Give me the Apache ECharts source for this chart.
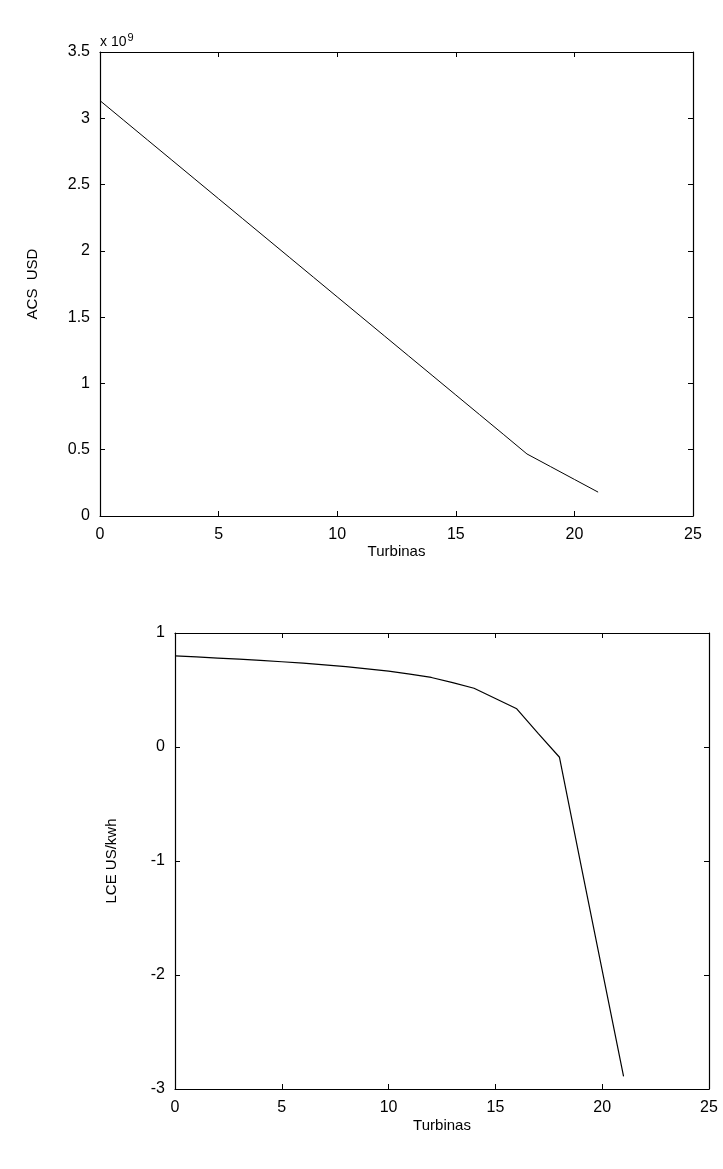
<!DOCTYPE html>
<html>
<head>
<meta charset="utf-8">
<script src="https://cdn.jsdelivr.net/npm/echarts@6/dist/echarts.min.js"></script>
<style>
  html, body { margin: 0; padding: 0; background: #fff; }
  #main { width: 723px; height: 1169px; }
</style>
</head>
<body>
<div id="main"></div>
<script>
(function(){
    // numero de turbinas (eje x comun)
    var turbinas = [0,1,2,3,4,5,6,7,8,9,10,11,12,13,14,15,16,17,18,19,20,21];
    // ACS en USD (grafico superior)
    var acs = [3.133e9,2.985e9,2.837e9,2.689e9,2.541e9,2.393e9,2.245e9,2.097e9,1.949e9,1.801e9,1.653e9,
               1.505e9,1.357e9,1.209e9,1.061e9,0.913e9,0.765e9,0.617e9,0.468e9,0.372e9,0.276e9,0.180e9];
    // LCE en US/kwh (grafico inferior)
    var lce = [0.80,0.79,0.78,0.77,0.76,0.748,0.735,0.72,0.705,0.685,0.665,0.64,0.61,0.565,0.515,0.426,0.335,0.12,-0.09,-1.03,-1.96,-2.89];
    var xTicks = [0,5,10,15,20,25];

    var font = 'Liberation Sans';
    var black = '#000';

    function pairs(ys){
        return turbinas.map(function(t,i){ return [t, ys[i]]; });
    }

    function xAx(grid, pos, show, gap){
        return {
            type: 'value', gridIndex: grid, position: pos,
            min: xTicks[0], max: xTicks[xTicks.length-1], interval: 5,
            name: show ? 'Turbinas' : '', nameLocation: 'middle', nameGap: gap || 0,
            nameTextStyle: { fontFamily: font, fontSize: 15, color: black },
            axisLine: { show: true, onZero: false, lineStyle: { color: black, width: 1.2 } },
            axisTick: { show: true, inside: true, length: 5, lineStyle: { color: black } },
            axisLabel: { show: show, margin: 11, fontFamily: font, fontSize: 16, color: black },
            splitLine: { show: false }
        };
    }
    function yAx(grid, pos, show, min, max, iv, name, gap, fmt){
        return {
            type: 'value', gridIndex: grid, position: pos,
            min: min, max: max, interval: iv,
            name: show ? name : '', nameLocation: 'middle', nameGap: gap,
            nameTextStyle: { fontFamily: font, fontSize: 15, color: black },
            axisLine: { show: true, onZero: false, lineStyle: { color: black, width: 1.2 } },
            axisTick: { show: true, inside: true, length: 5, lineStyle: { color: black } },
            axisLabel: { show: show, margin: 10, fontFamily: font, fontSize: 16, color: black, formatter: fmt },
            splitLine: { show: false }
        };
    }

    var mycharts = echarts.init(document.getElementById('main'));
    var option = {
        backgroundColor: '#fff',
        animation: false,
        grid: [
            { left: 100, right: 30, top: 52, height: 464 },
            { left: 175, right: 14, top: 633, height: 456 }
        ],
        xAxis: [
            xAx(0, 'bottom', true, 28), xAx(0, 'top', false),
            xAx(1, 'bottom', true, 29), xAx(1, 'top', false)
        ],
        yAxis: [
            yAx(0, 'left', true, 0, 3.5e9, 0.5e9, 'ACS  USD', 60, function(v){ return String(Math.round(v/1e8)/10); }),
            yAx(0, 'right', false, 0, 3.5e9, 0.5e9, '', 0),
            yAx(1, 'left', true, -3, 1, 1, 'LCE US/kwh', 56),
            yAx(1, 'right', false, -3, 1, 1, '', 0)
        ],
        graphic: [{
            type: 'text', left: 100, top: 32,
            style: {
                text: 'x 10{s|9}', fontFamily: font, fontSize: 14, fill: black,
                rich: { s: { fontSize: 11, verticalAlign: 'top', padding: [0,0,9,1] } }
            }
        }],
        series: [
            {
                type: 'line', xAxisIndex: 0, yAxisIndex: 0, data: pairs(acs),
                showSymbol: false, lineStyle: { color: black, width: 1 }
            },
            {
                type: 'line', xAxisIndex: 2, yAxisIndex: 2, data: pairs(lce),
                showSymbol: false, lineStyle: { color: black, width: 1.2 }
            }
        ]
    };
    mycharts.setOption(option);
})();
</script>
</body>
</html>
